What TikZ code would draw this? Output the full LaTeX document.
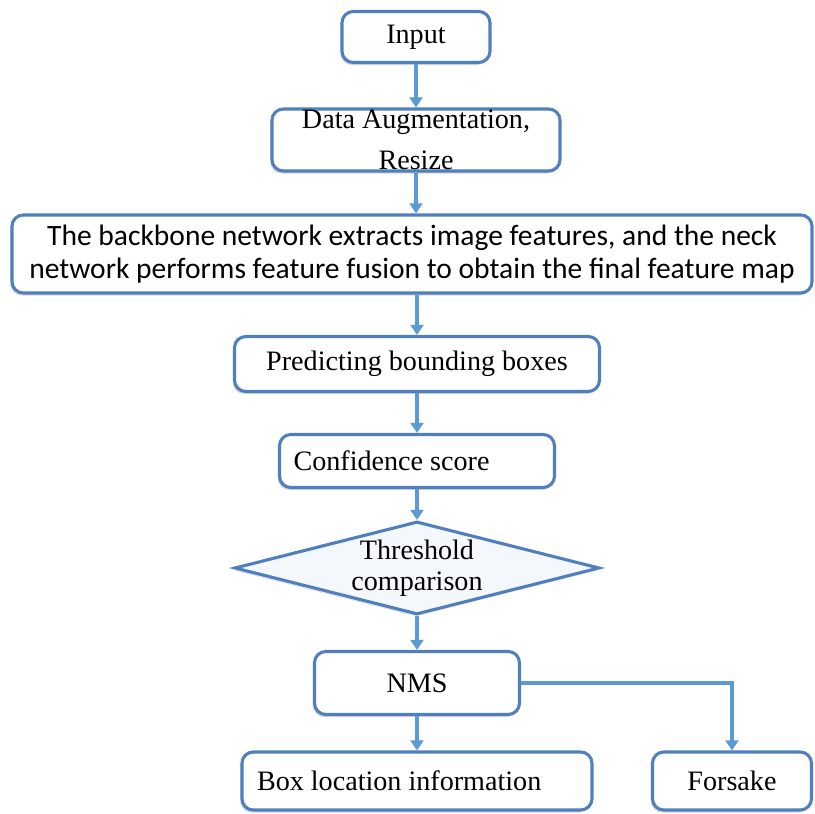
\documentclass[tikz,border=0pt]{standalone}
\usepackage{fontspec}
\setmainfont{Liberation Serif}
\newfontfamily\calfont{Carlito}
\usetikzlibrary{arrows.meta,shapes.geometric,shadows}
\definecolor{edge}{HTML}{4F80BD}
\definecolor{flow}{HTML}{5B9BD5}
\definecolor{tint}{HTML}{F4F8FC}
\def\pix{0.0125cm}
\tikzset{
  box/.style={draw=edge, fill=white, line width=1.1pt, rounded corners=4pt,
    inner sep=0pt, align=center, font=\fontsize{10}{11.5}\selectfont,
    drop shadow={shadow xshift=-0.6pt, shadow yshift=-0.9pt, opacity=0.3}},
  dia/.style={draw=edge, fill=tint, line width=1.1pt, shape=diamond, aspect=3.92,
    inner sep=0pt, align=center, font=\fontsize{10}{11}\selectfont,
    drop shadow={shadow xshift=-0.6pt, shadow yshift=-0.9pt, opacity=0.2}},
  arr/.style={draw=flow, line width=1.1pt, -{Triangle[length=3.6pt,width=4.6pt]}},
}

\begin{document}
\begin{tikzpicture}[x=0.0125cm, y=-0.0125cm]
  \useasboundingbox (0,0) rectangle (815,814);

  \node[box, minimum width=148*\pix, minimum height=51*\pix] (in) at (416,37) {Input};
  \node[box, minimum width=288*\pix, minimum height=62*\pix,
    font=\fontsize{10}{12.5}\selectfont] (aug) at (416,140)
    {Data Augmentation,\\\raisebox{-2pt}{Resize}};
  \node[box, minimum width=800*\pix, minimum height=78*\pix,
    font=\calfont\fontsize{10.5}{11.5}\selectfont] (bb) at (412,254)
    {The backbone network extracts image features, and the neck\\
     network performs feature fusion to obtain the final feature map};
  \node[box, minimum width=365*\pix, minimum height=55*\pix] (pred) at (417,364)
    {Predicting bounding boxes};
  \node[box, align=flush left, text width=247*\pix, inner xsep=14*\pix,
    minimum height=53*\pix] (conf) at (417,461) {Confidence score};
  \node[dia, minimum width=365*\pix, minimum height=93*\pix] (thr) at (417,568)
    {\raisebox{-3pt}{Threshold}\\\raisebox{-3pt}{comparison}};
  \node[box, minimum width=205*\pix, minimum height=63*\pix] (nms) at (417,683) {NMS};
  \node[box, align=flush left, text width=320*\pix, inner xsep=15*\pix,
    minimum height=58*\pix] (loc) at (417,781) {Box location information};
  \node[box, minimum width=159*\pix, minimum height=58*\pix] (fors) at (732,781) {Forsake};

  \draw[arr] (in) -- (aug);
  \draw[arr] (aug.south) -- (aug.south |- bb.north);
  \draw[arr] (bb.south -| pred.north) -- (pred.north);
  \draw[arr] (pred) -- (conf);
  \draw[arr] (conf) -- (thr);
  \draw[arr] (thr) -- (nms);
  \draw[arr] (nms) -- (loc);
  \draw[arr] (nms.east) -| (fors.north);
\end{tikzpicture}
\end{document}
